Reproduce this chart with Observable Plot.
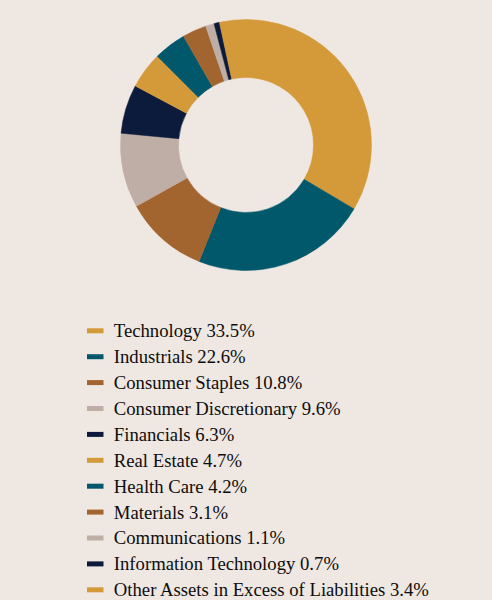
<!DOCTYPE html>
<html>
<head>
<meta charset="utf-8">
<script src="https://cdn.jsdelivr.net/npm/d3@7"></script>
<script src="https://cdn.jsdelivr.net/npm/@observablehq/plot@0.6"></script>
<style>
  html, body { margin: 0; padding: 0; background: #EFE7E1; }
  #chart { width: 492px; }
  #chart svg { display: block; }
  #chart text { font-family: "Liberation Serif", "Times New Roman", serif !important; }
</style>
</head>
<body>
<div id="chart"></div>
<script>
// Sector allocation (% of net assets)
const sectors = [
  "Technology",
  "Industrials",
  "Consumer Staples",
  "Consumer Discretionary",
  "Financials",
  "Real Estate",
  "Health Care",
  "Materials",
  "Communications",
  "Information Technology",
  "Other Assets in Excess of Liabilities"
];
const weights = [33.5, 22.6, 10.8, 9.6, 6.3, 4.7, 4.2, 3.1, 1.1, 0.7, 3.4];

// Five-colour palette, repeated around the ring
const palette = ["#D49A3A", "#00586A", "#A2652F", "#BEAEA5", "#0C1A3B"];
const colors = sectors.map((_, i) => palette[i % palette.length]);

const rows = sectors.map((sector, i) => ({sector, value: weights[i]}));
const arcs = d3.pie().value(d => d.value).sort(null)(rows);

const holeRatio = 67.5 / 125.5;

// Donut: one path per sector, filled from the shared colour scale
const donut = Plot.plot({
  width: 492,
  height: 290,
  margin: 0,
  style: {background: "transparent"},
  x: {domain: [-1, 1], range: [246 - 125.5, 246 + 125.5], axis: null},
  y: {domain: [-1, 1], range: [145 + 125.5, 145 - 125.5], axis: null},
  color: {domain: sectors, range: colors},
  marks: [
    Plot.dot(arcs, {
      x: () => 0,
      y: () => 0,
      fill: d => d.data.sector,
      render: (index, scales, values) => {
        const cx = scales.x(0), cy = scales.y(0);
        const R = scales.x(1) - cx;
        const arc = d3.arc().innerRadius(R * holeRatio).outerRadius(R);
        const g = d3.create("svg:g").attr("transform", `translate(${cx},${cy})`);
        g.selectAll("path")
          .data(index)
          .join("path")
          .attr("d", i => arc(arcs[i]))
          .attr("fill", i => values.fill[i])
          .attr("stroke", i => values.fill[i])
          .attr("stroke-width", 0.5);
        return g.node();
      }
    })
  ]
});

// Legend: swatch + label per sector, one row each
const step = 25.9, firstRow = 40.8;
const legend = Plot.plot({
  width: 492,
  height: 310,
  margin: 0,
  style: {background: "transparent"},
  x: {domain: [0, 492], range: [0, 492], axis: null},
  y: {
    type: "band",
    domain: sectors,
    range: [firstRow - step / 2, firstRow + (sectors.length - 0.5) * step],
    padding: 0,
    round: false,
    axis: null
  },
  color: {domain: sectors, range: colors},
  marks: [
    Plot.barX(sectors, {
      x1: 87,
      x2: 103.5,
      y: d => d,
      fill: d => d,
      insetTop: (step - 5) / 2,
      insetBottom: (step - 5) / 2
    }),
    Plot.text(sectors, {
      x: 113.3,
      y: d => d,
      text: (d, i) => `${d} ${weights[i].toFixed(1)}%`,
      textAnchor: "start",
      fontSize: 18.7,
      fill: "#0d0d0d"
    })
  ]
});

const chart = document.getElementById("chart");
chart.append(donut, legend);
</script>
</body>
</html>
